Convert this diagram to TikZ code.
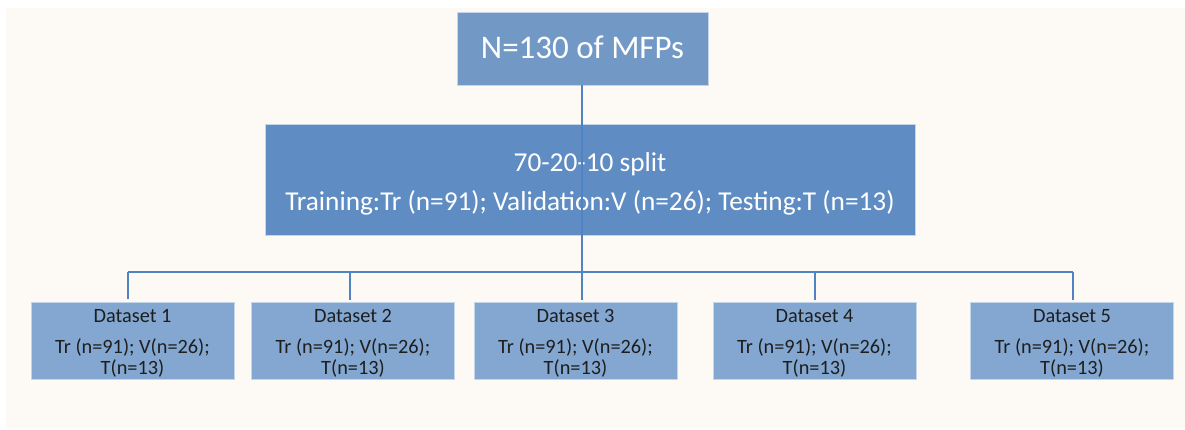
\documentclass[tikz,border=0pt]{standalone}
\usepackage{fontspec}
\setmainfont{Carlito}
\definecolor{pagebg}{HTML}{FDFAF5}
\definecolor{topfill}{HTML}{7299C6}
\definecolor{midfill}{HTML}{5F8DC3}
\definecolor{dsfill}{HTML}{83A7D0}
\definecolor{boxedge}{HTML}{C5D6EA}
\definecolor{linkcol}{HTML}{4F83C2}
\definecolor{dstext}{HTML}{1E1E1E}
\begin{document}
\begin{tikzpicture}[x=1pt,y=-1pt,
  box/.style={rectangle, draw=boxedge, line width=0.8pt, inner sep=0pt},
  topbox/.style={box, fill=topfill, minimum width=251pt, minimum height=73pt},
  midbox/.style={box, fill=midfill, minimum width=650pt, minimum height=111pt},
  dsbox/.style={box, fill=dsfill, minimum width=203pt, minimum height=77pt},
  toptext/.style={inner sep=0pt, align=center, text=white, font=\fontsize{33}{38}\selectfont},
  midtext/.style={inner sep=0pt, align=center, text=white, font=\fontsize{27.3}{32}\selectfont},
  dstext/.style={inner sep=0pt, align=center, text=dstext, font=\fontsize{20.3}{21}\selectfont},
  link/.style={draw=linkcol, line width=1.1pt}
]
\fill[white] (0,0) rectangle (1185,430);
\fill[pagebg] (6,8) rectangle (1185,428);
\useasboundingbox (0,0) rectangle (1185,430);

\node[topbox] (top) at (582.5,48.5) {};
\node[toptext] (topt) at ([yshift=1pt]top.center) {N=130 of MFPs};
\node[midbox] (mid) at (590,179.5) {};
\node[midtext] (midt) at ([yshift=-4.5pt]mid.center) {70-20-10 split\\[7pt]Training:Tr (n=91); Validation:V (n=26); Testing:T (n=13)};

\node[dsbox] (d1) at (132.5,340.5) {};
\node[dsbox] (d2) at (353,341) {};
\node[dsbox] (d3) at (575.5,341) {};
\node[dsbox] (d4) at (814.5,341) {};
\node[dsbox] (d5) at (1072,341) {};
\foreach \i in {1,...,5} {
  \node[dstext] (d\i t) at ([yshift=-2.5pt]d\i.center) {Dataset \i\\[10pt]Tr (n=91); V(n=26);\\T(n=13)};
}

\coordinate (j) at (582,272);
\coordinate (j1) at (128,272);
\coordinate (j2) at (350,272);
\coordinate (j3) at (582,272);
\coordinate (j4) at (815,272);
\coordinate (j5) at (1073,272);

\draw[link] (top.south -| j) -- (j);
\draw[link] (j1) -- (j5);
\foreach \i in {1,...,5} {
  \draw[link, shorten >=2.5pt] (j\i) -- (j\i |- d\i.north);
}
\end{tikzpicture}
\end{document}
